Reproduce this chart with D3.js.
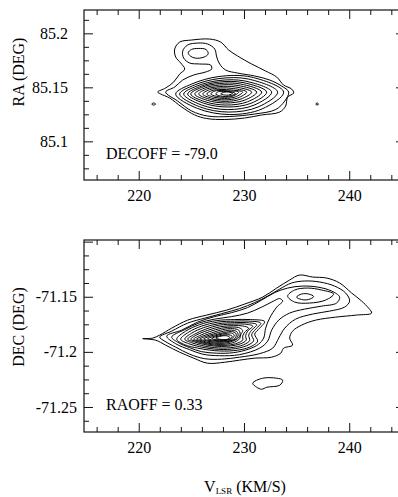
<!DOCTYPE html>
<html>
<head>
<meta charset="utf-8">
<script src="https://cdn.jsdelivr.net/npm/d3@7"></script>
<style>
  body { margin: 0; background: #fff; }
  svg { display: block; font-family: "Liberation Serif", "Times New Roman", serif; }
</style>
</head>
<body>
<svg id="chart" width="398" height="497"></svg>
<script>
// Position-velocity contour maps (two cuts)

// --- axis ticks ---
const velocityMajor = [220, 230, 240];
const velocityMinor = [216, 218, 222, 224, 226, 228, 232, 234, 236, 238, 242, 244];
const raMajor = [85.1, 85.15, 85.2];
const raLabelled = [85.1, 85.15, 85.2];
const raMinor = [85.075, 85.0875, 85.1125, 85.125, 85.1375, 85.1625, 85.175, 85.1875, 85.2125];
const decMajor = [-71.1, -71.15, -71.2, -71.25];
const decLabelled = [-71.15, -71.2, -71.25];
const decMinor = [-71.1125, -71.125, -71.1375, -71.1625, -71.175, -71.1875, -71.2125, -71.225, -71.2375, -71.2625];

// --- top panel contours: [velocity km/s, RA deg] ---
const raOuter = [[221.80,85.1456],[222.56,85.1494],[223.32,85.1549],[223.89,85.1623],[224.37,85.1669],[223.99,85.1725],
  [223.51,85.1781],[223.42,85.1855],[223.89,85.1919],[225.03,85.1938],[226.74,85.1947],[227.79,85.1919],[228.55,85.1845],
  [229.40,85.1790],[230.73,85.1716],[232.06,85.1651],[233.11,85.1595],[233.77,85.1521],[234.53,85.1484],[234.72,85.1447],
  [234.15,85.1410],[233.96,85.1327],[233.39,85.1271],[231.68,85.1244],[230.07,85.1216],[228.17,85.1202],[226.46,85.1211],
  [225.32,85.1244],[224.08,85.1318],[222.94,85.1401],[222.09,85.1438]];
const raSecond = [[222.56,85.1456],[223.42,85.1503],[224.18,85.1568],[225.22,85.1614],[226.36,85.1642],[226.93,85.1669],
  [226.84,85.1706],[225.79,85.1716],[224.84,85.1725],[224.27,85.1771],[224.18,85.1836],[224.65,85.1892],[225.60,85.1910],
  [226.55,85.1901],[227.22,85.1855],[227.41,85.1781],[227.69,85.1716],[228.26,85.1660],[229.40,85.1632],[231.02,85.1605],
  [232.44,85.1568],[233.58,85.1512],[234.25,85.1456],[233.87,85.1373],[233.01,85.1294],[231.02,85.1253],[228.64,85.1230],
  [226.55,85.1234],[225.03,85.1281],[223.70,85.1373]];
const raUpperCore = [[224.70,85.1820],[225.00,85.1850],[225.70,85.1860],[226.40,85.1850],[226.60,85.1810],[226.20,85.1780],
  [225.40,85.1770],[224.90,85.1790]];
const raRings = [
  [[223.51,85.1438],[225.05,85.1531],[227.62,85.1600],[230.69,85.1595],[233.77,85.1456],[231.72,85.1300],[228.64,85.1248],[225.57,85.1305]],
  [[223.89,85.1438],[225.29,85.1521],[227.62,85.1581],[230.41,85.1577],[233.20,85.1456],[231.34,85.1318],[228.55,85.1271],[225.76,85.1321]],
  [[224.27,85.1438],[225.53,85.1512],[227.62,85.1563],[230.12,85.1558],[232.63,85.1456],[230.96,85.1335],[228.45,85.1294],[225.95,85.1337]],
  [[224.65,85.1438],[225.78,85.1505],[227.65,85.1549],[229.91,85.1544],[232.16,85.1456],[230.66,85.1352],[228.40,85.1318],[226.15,85.1354]],
  [[224.94,85.1438],[225.95,85.1498],[227.64,85.1535],[229.66,85.1531],[231.68,85.1456],[230.33,85.1366],[228.31,85.1336],[226.29,85.1367]],
  [[225.32,85.1438],[226.20,85.1491],[227.67,85.1521],[229.44,85.1517],[231.21,85.1456],[230.03,85.1380],[228.26,85.1355],[226.50,85.1380]],
  [[225.70,85.1438],[226.45,85.1484],[227.71,85.1507],[229.22,85.1503],[230.73,85.1456],[229.72,85.1392],[228.21,85.1370],[226.70,85.1391]],
  [[226.08,85.1438],[226.70,85.1477],[227.75,85.1494],[229.00,85.1489],[230.26,85.1456],[229.42,85.1402],[228.17,85.1384],[226.91,85.1400]],
  [[226.46,85.1438],[226.97,85.1470],[227.83,85.1480],[228.85,85.1475],[229.88,85.1456],[229.19,85.1412],[228.17,85.1397],[227.14,85.1409]],
  [[226.84,85.1438],[227.24,85.1466],[227.90,85.1470],[228.70,85.1466],[229.50,85.1456],[228.97,85.1420],[228.17,85.1408],[227.37,85.1417]],
  [[227.31,85.1438],[227.60,85.1461],[228.07,85.1461],[228.74,85.1459],[229.21,85.1440],[228.83,85.1425],[228.26,85.1415],[227.69,85.1422]],
  [[227.79,85.1440],[228.17,85.1455],[228.55,85.1456],[228.93,85.1445],[228.55,85.1429],[228.17,85.1429]]
];
const raSpots = [
  [[221.23,85.1345],[221.42,85.1355],[221.61,85.1345],[221.42,85.1336]],
  [[236.81,85.1345],[236.95,85.1355],[237.09,85.1345],[236.95,85.1336]]
];

// --- bottom panel contours: [velocity km/s, DEC deg] ---
const decOuter = [[220.38,-71.1880],[221.33,-71.1875],[221.99,-71.1848],[223.13,-71.1785],[224.65,-71.1712],[226.46,-71.1666],
  [228.36,-71.1621],[230.07,-71.1566],[231.78,-71.1503],[233.11,-71.1421],[234.34,-71.1348],[235.29,-71.1303],[236.52,-71.1321],
  [237.85,-71.1330],[239.09,-71.1375],[240.23,-71.1466],[241.18,-71.1539],[241.84,-71.1603],[242.13,-71.1648],[240.70,-71.1666],
  [238.71,-71.1685],[236.81,-71.1712],[235.48,-71.1757],[234.62,-71.1812],[234.34,-71.1875],[234.62,-71.1939],[233.77,-71.1966],
  [233.49,-71.2012],[232.63,-71.2048],[231.02,-71.2057],[229.59,-71.2075],[228.17,-71.2094],[226.55,-71.2103],[225.22,-71.2057],
  [223.89,-71.2003],[222.56,-71.1939],[221.61,-71.1894]];
const decSecond = [[221.99,-71.1866],[223.13,-71.1812],[224.65,-71.1739],[226.27,-71.1694],[227.88,-71.1653],[229.59,-71.1607],
  [231.02,-71.1553],[232.25,-71.1494],[233.39,-71.1430],[234.53,-71.1375],[235.76,-71.1357],[237.19,-71.1366],[238.61,-71.1403],
  [239.66,-71.1466],[240.04,-71.1539],[239.56,-71.1594],[238.14,-71.1630],[236.52,-71.1657],[234.91,-71.1703],[233.87,-71.1785],
  [233.30,-71.1875],[232.73,-71.1966],[231.49,-71.2016],[229.59,-71.2048],[227.88,-71.2066],[226.27,-71.2062],[224.84,-71.2021],
  [223.51,-71.1957],[222.47,-71.1903]];
const decThird = [[222.66,-71.1857],[224.08,-71.1803],[225.60,-71.1730],[227.22,-71.1680],[228.83,-71.1644],[230.35,-71.1598],
  [231.68,-71.1530],[232.92,-71.1462],[234.15,-71.1421],[235.57,-71.1403],[237.00,-71.1412],[238.33,-71.1448],[239.09,-71.1503],
  [238.80,-71.1557],[237.38,-71.1585],[235.76,-71.1612],[234.34,-71.1648],[233.30,-71.1712],[232.63,-71.1803],[232.25,-71.1903],
  [231.49,-71.1966],[229.59,-71.2025],[227.69,-71.2035],[226.08,-71.2021],[224.84,-71.1980],[223.51,-71.1926]];
const decFourth = [[223.13,-71.1866],[224.37,-71.1798],[225.70,-71.1739],[227.22,-71.1703],[228.83,-71.1680],[230.35,-71.1648],
  [231.68,-71.1594],[232.82,-71.1539],[233.39,-71.1516],[233.68,-71.1539],[233.11,-71.1594],[232.44,-71.1694],[232.06,-71.1785],
  [231.87,-71.1875],[231.40,-71.1930],[230.45,-71.1975],[229.02,-71.2007],[227.41,-71.2012],[225.98,-71.1998],[224.84,-71.1962],
  [223.70,-71.1912]];
const decEastRing = [[234.15,-71.1494],[234.81,-71.1439],[236.05,-71.1421],[237.38,-71.1439],[238.52,-71.1475],[237.76,-71.1530],
  [236.24,-71.1557],[234.81,-71.1548]];
const decEastCore = [[235.00,-71.1503],[235.48,-71.1475],[236.14,-71.1475],[236.62,-71.1498],[236.14,-71.1525],[235.48,-71.1525]];
const decSouthBlob = [[230.83,-71.2284],[231.78,-71.2239],[233.11,-71.2239],[233.68,-71.2257],[233.39,-71.2303],[232.16,-71.2321],
  [231.68,-71.2339],[231.21,-71.2321]];
const decRings = [
  [[223.61,-71.1885],[224.46,-71.1812],[225.79,-71.1753],[227.41,-71.1716],[229.12,-71.1707],[230.64,-71.1707],[231.97,-71.1725],
   [231.49,-71.1785],[231.02,-71.1839],[231.30,-71.1903],[230.54,-71.1957],[229.02,-71.1989],[227.22,-71.1989],[225.60,-71.1966],[224.37,-71.1935]],
  [[223.99,-71.1885],[224.75,-71.1821],[225.98,-71.1766],[227.50,-71.1730],[229.12,-71.1721],[230.45,-71.1721],[231.59,-71.1739],
   [231.11,-71.1794],[230.73,-71.1844],[230.92,-71.1899],[230.26,-71.1944],[228.83,-71.1975],[227.22,-71.1975],[225.79,-71.1953],[224.75,-71.1926]],
  [[224.37,-71.1885],[225.03,-71.1830],[226.17,-71.1780],[227.60,-71.1744],[229.12,-71.1735],[230.26,-71.1735],[231.21,-71.1753],
   [230.73,-71.1803],[230.45,-71.1848],[230.54,-71.1897],[229.97,-71.1935],[228.74,-71.1962],[227.22,-71.1962],[225.98,-71.1942],[225.03,-71.1917]],
  [[224.65,-71.1885],[225.32,-71.1839],[226.36,-71.1794],[227.69,-71.1757],[229.12,-71.1748],[230.07,-71.1748],[230.83,-71.1766],
   [230.35,-71.1812],[230.16,-71.1853],[230.21,-71.1894],[229.69,-71.1926],[228.55,-71.1948],[227.22,-71.1948],[226.17,-71.1932],[225.32,-71.1911]],
  [[224.94,-71.1885],[225.51,-71.1846],[226.55,-71.1805],[227.79,-71.1771],[229.02,-71.1762],[229.88,-71.1765],[230.45,-71.1785],
   [230.07,-71.1821],[229.88,-71.1857],[229.88,-71.1892],[229.40,-71.1920],[228.45,-71.1939],[227.22,-71.1939],[226.27,-71.1924],[225.51,-71.1905]],
  [[225.22,-71.1885],[225.79,-71.1853],[226.74,-71.1816],[227.88,-71.1785],[228.93,-71.1775],[229.59,-71.1783],[229.88,-71.1807],
   [229.69,-71.1844],[229.59,-71.1880],[229.12,-71.1911],[228.26,-71.1930],[227.22,-71.1930],[226.36,-71.1917],[225.70,-71.1901]],
  [[225.51,-71.1885],[226.08,-71.1857],[226.93,-71.1828],[227.98,-71.1798],[228.93,-71.1789],[229.50,-71.1803],[229.64,-71.1835],
   [229.50,-71.1871],[228.93,-71.1903],[228.17,-71.1921],[227.22,-71.1921],[226.46,-71.1911],[225.89,-71.1897]],
  [[225.79,-71.1885],[226.36,-71.1860],[227.12,-71.1837],[228.07,-71.1812],[228.83,-71.1803],[229.31,-71.1816],[229.45,-71.1846],
   [229.26,-71.1880],[228.74,-71.1901],[227.98,-71.1912],[227.12,-71.1911],[226.46,-71.1901],[226.08,-71.1893]],
  [[226.17,-71.1883],[226.65,-71.1862],[227.31,-71.1844],[228.17,-71.1824],[228.83,-71.1816],[229.21,-71.1830],[229.26,-71.1857],
   [229.02,-71.1885],[228.45,-71.1901],[227.69,-71.1905],[226.93,-71.1900],[226.46,-71.1892]],
  [[226.55,-71.1881],[227.03,-71.1862],[227.60,-71.1846],[228.26,-71.1833],[228.83,-71.1830],[229.07,-71.1848],[228.93,-71.1875],
   [228.45,-71.1894],[227.69,-71.1899],[227.03,-71.1893]],
  [[226.93,-71.1879],[227.31,-71.1863],[227.88,-71.1850],[228.45,-71.1844],[228.88,-71.1857],[228.69,-71.1881],[228.07,-71.1892],[227.41,-71.1889]],
  [[227.31,-71.1875],[227.69,-71.1860],[228.26,-71.1853],[228.64,-71.1866],[228.45,-71.1885],[227.88,-71.1888]]
];

// --- layout ---
const V_DOMAIN = [214.8, 245.3];
const FRAME_LEFT = 84, FRAME_RIGHT = 405;
const MAJOR_LEN = 9, MINOR_LEN = 5;

const panels = [
  {
    top: 10, bottom: 180, yDomain: [85.0642, 85.2216],
    yMajor: raMajor, yLabelled: raLabelled, yMinor: raMinor, labelPad: 16,
    contours: [raOuter, raSecond, raUpperCore, ...raRings, ...raSpots],
    title: "RA (DEG)", titleY: 72,
    note: "DECOFF = -79.0", noteY: 159
  },
  {
    top: 240, bottom: 432, yDomain: [-71.2727, -71.0985],
    yMajor: decMajor, yLabelled: decLabelled, yMinor: decMinor, labelPad: 7,
    contours: [decOuter, decSecond, decThird, decFourth, decEastRing, decEastCore, decSouthBlob, ...decRings],
    title: "DEC (DEG)", titleY: 327,
    note: "RAOFF = 0.33", noteY: 410
  }
];

const svg = d3.select("#chart");
const x = d3.scaleLinear().domain(V_DOMAIN).range([FRAME_LEFT, FRAME_RIGHT]);

function styleAxis(g) {
  g.select(".domain").remove();
  g.selectAll("line").attr("stroke", "#111").attr("stroke-width", 1);
  g.selectAll("text")
    .attr("fill", "#000")
    .style("font-family", "'Liberation Serif', 'Times New Roman', serif")
    .style("font-size", "16px");
}

panels.forEach(p => {
  const y = d3.scaleLinear().domain(p.yDomain).range([p.bottom, p.top]);
  const g = svg.append("g");

  // Contours
  const line = d3.line()
    .x(d => x(d[0]))
    .y(d => y(d[1]))
    .curve(d3.curveCatmullRomClosed.alpha(0.5));

  g.append("g")
    .selectAll("path")
    .data(p.contours)
    .join("path")
    .attr("d", line)
    .attr("fill", "none")
    .attr("stroke", "#000")
    .attr("stroke-width", 1);

  // Bottom axis (labelled majors + minors)
  g.append("g").attr("transform", `translate(0,${p.bottom})`)
    .call(d3.axisBottom(x).tickValues(velocityMajor).tickSize(-MAJOR_LEN).tickPadding(9.5).tickFormat(d => String(d)))
    .call(styleAxis);
  g.append("g").attr("transform", `translate(0,${p.bottom})`)
    .call(d3.axisBottom(x).tickValues(velocityMinor).tickSize(-MINOR_LEN).tickFormat(""))
    .call(styleAxis);

  // Top axis
  g.append("g").attr("transform", `translate(0,${p.top})`)
    .call(d3.axisTop(x).tickValues(velocityMajor).tickSize(-MAJOR_LEN).tickFormat(""))
    .call(styleAxis);
  g.append("g").attr("transform", `translate(0,${p.top})`)
    .call(d3.axisTop(x).tickValues(velocityMinor).tickSize(-MINOR_LEN).tickFormat(""))
    .call(styleAxis);

  // Left axis
  g.append("g").attr("transform", `translate(${FRAME_LEFT},0)`)
    .call(d3.axisLeft(y).tickValues(p.yMajor).tickSize(-MAJOR_LEN).tickPadding(p.labelPad)
      .tickFormat(d => p.yLabelled.includes(d) ? String(d) : ""))
    .call(styleAxis);
  g.append("g").attr("transform", `translate(${FRAME_LEFT},0)`)
    .call(d3.axisLeft(y).tickValues(p.yMinor).tickSize(-MINOR_LEN).tickFormat(""))
    .call(styleAxis);

  // Right axis
  g.append("g").attr("transform", `translate(${FRAME_RIGHT},0)`)
    .call(d3.axisRight(y).tickValues(p.yMajor).tickSize(-MAJOR_LEN).tickFormat(""))
    .call(styleAxis);
  g.append("g").attr("transform", `translate(${FRAME_RIGHT},0)`)
    .call(d3.axisRight(y).tickValues(p.yMinor).tickSize(-MINOR_LEN).tickFormat(""))
    .call(styleAxis);

  // Frame
  g.append("rect")
    .attr("x", FRAME_LEFT)
    .attr("y", p.top)
    .attr("width", FRAME_RIGHT - FRAME_LEFT)
    .attr("height", p.bottom - p.top)
    .attr("fill", "none")
    .attr("stroke", "#111")
    .attr("stroke-width", 1.2);

  // Y title
  g.append("text")
    .attr("transform", `translate(24,${p.titleY}) rotate(-90)`)
    .attr("text-anchor", "middle")
    .attr("font-size", 16)
    .attr("fill", "#000")
    .text(p.title);

  // Offset note
  g.append("text")
    .attr("x", 106)
    .attr("y", p.noteY)
    .attr("font-size", 16)
    .attr("fill", "#000")
    .text(p.note);
});

// X title with subscript
const xTitle = svg.append("text")
  .attr("x", 245)
  .attr("y", 492)
  .attr("text-anchor", "middle")
  .attr("font-size", 16)
  .attr("fill", "#000");
xTitle.append("tspan").text("V");
xTitle.append("tspan").attr("font-size", 9).attr("dy", 2).text("LSR");
xTitle.append("tspan").attr("dy", -2).text(" (KM/S)");
</script>
</body>
</html>
